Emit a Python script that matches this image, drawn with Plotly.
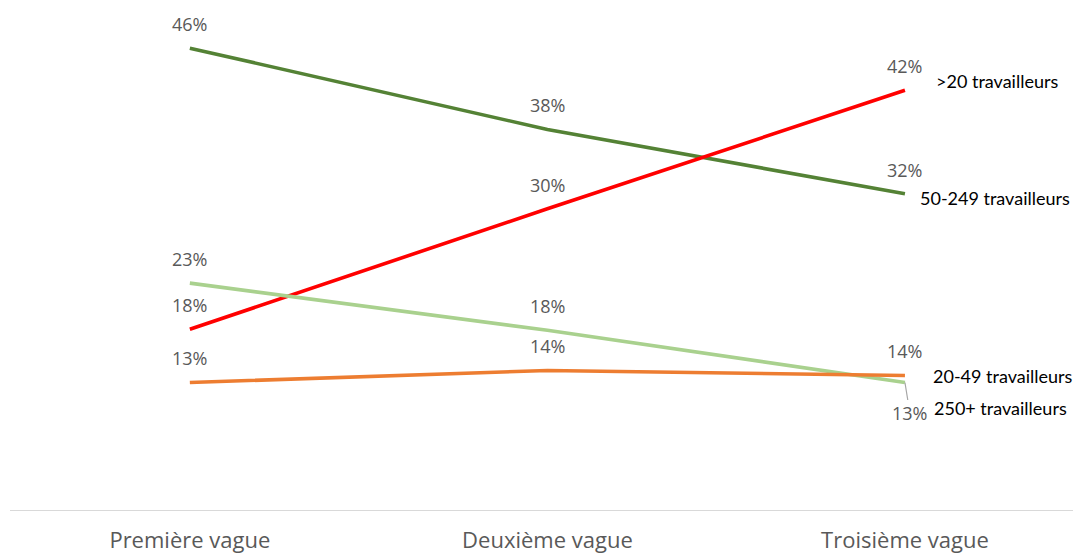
import plotly.graph_objects as go

categories = ["Première vague", "Deuxième vague", "Troisième vague"]

series_names = [">20 travailleurs", "50-249 travailleurs", "250+ travailleurs", "20-49 travailleurs"]
vals_gt20 = [18.0, 30.0, 41.8]
vals_50_249 = [46.0, 37.9, 31.5]
vals_250 = [22.6, 17.9, 12.7]
vals_20_49 = [12.7, 13.9, 13.4]

labels_gt20 = ["18%", "30%", "42%"]
labels_50_249 = ["46%", "38%", "32%"]
labels_250 = ["23%", "18%", "13%"]
labels_20_49 = ["13%", "14%", "14%"]

colors = ["#FF0000", "#548235", "#A9D18E", "#ED7D31"]

all_vals = [vals_gt20, vals_50_249, vals_250, vals_20_49]
all_labels = [labels_gt20, labels_50_249, labels_250, labels_20_49]

fig = go.Figure()
# draw order: dark green, red, light green, orange
for i in [1, 0, 2, 3]:
    fig.add_trace(go.Scatter(
        x=categories, y=all_vals[i], mode="lines", name=series_names[i],
        line=dict(color=colors[i], width=3.6), hoverinfo="skip"))

lab_font = dict(family="Open Sans", size=18, color="#595959")
annos = []
for i in range(4):
    for j in range(3):
        if i == 2 and j == 2:
            # label below with leader line
            annos.append(dict(x=categories[j], y=all_vals[i][j], xref="x", yref="y",
                              text=all_labels[i][j], showarrow=True, arrowhead=0,
                              arrowcolor="#A6A6A6", arrowwidth=1.2,
                              ax=5, ay=31, standoff=0, font=lab_font))
        else:
            annos.append(dict(x=categories[j], y=all_vals[i][j], xref="x", yref="y",
                              text=all_labels[i][j], showarrow=False, yshift=24,
                              font=lab_font))

name_font = dict(family="Lato", size=18, color="#000000")
name_offsets = {0: (29, 9), 1: (13, -4), 2: (27, -26), 3: (26, -1)}
for i in range(4):
    dx, dy = name_offsets[i]
    annos.append(dict(x=categories[2], y=all_vals[i][2], xref="x", yref="y",
                      text=series_names[i], showarrow=False, xanchor="left",
                      xshift=dx, yshift=dy, font=name_font))

fig.update_layout(
    width=1073, height=555,
    margin=dict(l=10, r=0, t=8, b=45),
    paper_bgcolor="white", plot_bgcolor="white",
    showlegend=False,
    annotations=annos,
    xaxis=dict(type="category", range=[-0.503, 2.47], showgrid=False, zeroline=False,
               showline=True, linecolor="#D9D9D9", linewidth=1.3, ticks="",
               automargin=False, ticklabelstandoff=10,
               tickfont=dict(family="Open Sans", size=22, color="#595959")),
    yaxis=dict(range=[0, 50], visible=False, showgrid=False, zeroline=False,
               automargin=False),
)

fig.write_html("out.html")
